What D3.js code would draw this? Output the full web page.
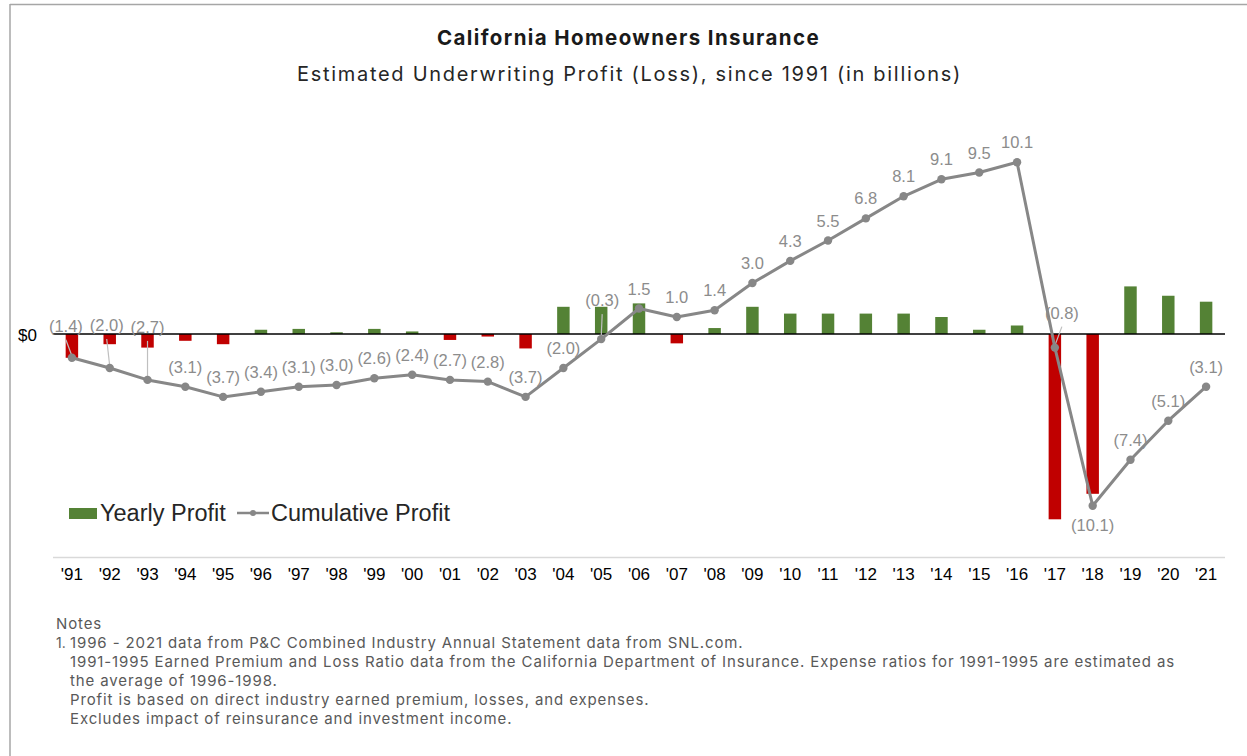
<!DOCTYPE html>
<html>
<head>
<meta charset="utf-8">
<script src="https://cdn.jsdelivr.net/npm/d3@7"></script>
<style>
  html, body { margin: 0; padding: 0; background: #fff; }
  svg { display: block; }
</style>
</head>
<body>
<svg id="chart" width="1247" height="756"></svg>
<script>
// ---- data ----
const years = ["'91","'92","'93","'94","'95","'96","'97","'98","'99","'00","'01","'02","'03","'04","'05","'06","'07","'08","'09","'10","'11","'12","'13","'14","'15","'16","'17","'18","'19","'20","'21"];
const yearlyProfit = [-1.4,-0.6,-0.8,-0.4,-0.6,0.25,0.3,0.1,0.3,0.15,-0.35,-0.15,-0.85,1.6,1.6,1.8,-0.55,0.35,1.6,1.2,1.2,1.2,1.2,1.0,0.25,0.5,-10.9,-9.4,2.8,2.25,1.9];
const cumulativeProfit = [-1.4,-2.0,-2.7,-3.1,-3.7,-3.4,-3.1,-3.0,-2.6,-2.4,-2.7,-2.8,-3.7,-2.0,-0.3,1.5,1.0,1.4,3.0,4.3,5.5,6.8,8.1,9.1,9.5,10.1,-0.8,-10.1,-7.4,-5.1,-3.1];
const seriesNames = ["Yearly Profit", "Cumulative Profit"];
const titleText = "California Homeowners Insurance";
const subtitleText = "Estimated Underwriting Profit (Loss), since 1991 (in billions)";
const notesLines = [
  "1996 - 2021 data from P&C Combined Industry Annual Statement data from SNL.com.",
  "1991-1995 Earned Premium and Loss Ratio data from the California Department of Insurance. Expense ratios for 1991-1995 are estimated as",
  "the average of 1996-1998.",
  "Profit is based on direct industry earned premium, losses, and expenses.",
  "Excludes impact of reinsurance and investment income."
];

// label placement overrides (layout only): [dx, dy from point, leader line?]
const labelPlacement = {
  "'91": [-6, -26, true],
  "'92": [-3, -37, true],
  "'93": [0, -47, true],
  "'05": [1, -33, true],
  "'17": [7, -29, true],
  "'18": [0, 25, false]
};

const fmt = v => v < 0 ? "(" + Math.abs(v).toFixed(1) + ")" : v.toFixed(1);

const svg = d3.select("#chart");
const W = 1247, H = 756;

// fit text width via letter-spacing
function fitWidth(sel, target) {
  const n = sel.text().length;
  const len = sel.node().getComputedTextLength();
  const ls = (target - len) / n;
  sel.style("letter-spacing", ls + "px");
  return ls;
}

// frame
svg.append("line").attr("x1", 10).attr("x2", W).attr("y1", 4.5).attr("y2", 4.5)
  .attr("stroke", "#a6a6a6").attr("stroke-width", 1.5);
svg.append("line").attr("x1", 10).attr("x2", 10).attr("y1", 4).attr("y2", H)
  .attr("stroke", "#a6a6a6").attr("stroke-width", 1.5);

// titles
const t1 = svg.append("text").attr("x", 437).attr("y", 45)
  .style("font-family", "Inter, 'Open Sans', sans-serif").style("font-weight", "700")
  .style("font-size", "20.5px").attr("fill", "#1a1a1a").text(titleText);
fitWidth(t1, 383);
const t2 = svg.append("text").attr("x", 297).attr("y", 81)
  .style("font-family", "Inter, 'Open Sans', sans-serif").style("font-weight", "400")
  .style("font-size", "20px").attr("fill", "#262626").text(subtitleText);
fitWidth(t2, 665);

// scales
const x = d3.scaleBand().domain(years).range([53, 1225]).paddingInner(0.67).paddingOuter(0.335);
const y = d3.scaleLinear().domain([-12, 11]).range([334 + 12 * 17, 334 - 11 * 17]);
const cx = d => x(d) + x.bandwidth() / 2;

// bars
svg.append("g").selectAll("rect").data(years).join("rect")
  .attr("x", d => x(d))
  .attr("width", x.bandwidth())
  .attr("y", (d, i) => y(Math.max(0, yearlyProfit[i])))
  .attr("height", (d, i) => Math.abs(y(yearlyProfit[i]) - y(0)))
  .attr("fill", (d, i) => yearlyProfit[i] >= 0 ? "#548235" : "#c00000");

// zero line
svg.append("line").attr("x1", 53).attr("x2", 1225).attr("y1", y(0)).attr("y2", y(0))
  .attr("stroke", "#000").attr("stroke-width", 1.3);

// $0 label
svg.append("text").attr("x", 37).attr("y", y(0) + 7).attr("text-anchor", "end")
  .style("font-family", "Arial, 'Liberation Sans', sans-serif").style("font-size", "17px")
  .attr("fill", "#000").text("$0");

// leader lines
const leaderG = svg.append("g");
years.forEach((d, i) => {
  const p = labelPlacement[d];
  if (p && p[2]) {
    leaderG.append("line")
      .attr("x1", cx(d) + p[0]).attr("y1", y(cumulativeProfit[i]) + p[1] + 8)
      .attr("x2", cx(d)).attr("y2", y(cumulativeProfit[i]) - 2)
      .attr("stroke", "#bfbfbf").attr("stroke-width", 1.2);
  }
});

// cumulative line
const line = d3.line().x((d, i) => cx(years[i])).y(d => y(d));
svg.append("path").datum(cumulativeProfit).attr("d", line)
  .attr("fill", "none").attr("stroke", "#878787").attr("stroke-width", 3).attr("stroke-linejoin", "round");
svg.append("g").selectAll("circle").data(cumulativeProfit).join("circle")
  .attr("cx", (d, i) => cx(years[i])).attr("cy", d => y(d)).attr("r", 4.2)
  .attr("fill", "#878787");

// data labels
svg.append("g").selectAll("text").data(cumulativeProfit).join("text")
  .attr("x", (d, i) => cx(years[i]) + (labelPlacement[years[i]] ? labelPlacement[years[i]][0] : 0))
  .attr("y", (d, i) => y(d) + (labelPlacement[years[i]] ? labelPlacement[years[i]][1] : -14))
  .attr("text-anchor", "middle")
  .style("font-family", "Arial, 'Liberation Sans', sans-serif").style("font-size", "16.5px")
  .attr("fill", "#8c8c8c").text(d => fmt(d));

// legend
const lg = svg.append("g");
lg.append("rect").attr("x", 69).attr("y", 508).attr("width", 28).attr("height", 11).attr("fill", "#548235");
lg.append("text").attr("x", 100).attr("y", 521)
  .style("font-family", "Arial, 'Liberation Sans', sans-serif").style("font-size", "23.5px")
  .attr("fill", "#262626").text(seriesNames[0]);
lg.append("line").attr("x1", 237).attr("x2", 269).attr("y1", 513).attr("y2", 513)
  .attr("stroke", "#878787").attr("stroke-width", 2.5);
lg.append("circle").attr("cx", 253).attr("cy", 513).attr("r", 3).attr("fill", "#878787");
lg.append("text").attr("x", 271).attr("y", 521)
  .style("font-family", "Arial, 'Liberation Sans', sans-serif").style("font-size", "23.5px")
  .attr("fill", "#262626").text(seriesNames[1]);

// category axis
svg.append("line").attr("x1", 53).attr("x2", 1225).attr("y1", 557.5).attr("y2", 557.5)
  .attr("stroke", "#d9d9d9").attr("stroke-width", 1.5);
const xAxis = d3.axisBottom(x).tickSize(0).tickPadding(0);
const ax = svg.append("g").attr("transform", "translate(0,566)").call(xAxis);
ax.select(".domain").remove();
ax.selectAll("text")
  .style("font-family", "Arial, 'Liberation Sans', sans-serif").style("font-size", "17px")
  .attr("fill", "#000").attr("dy", "0.8em");

// notes
const ng = svg.append("g").style("font-family", "Inter, 'Open Sans', sans-serif")
  .style("font-size", "15px").attr("fill", "#595959");
const noteTexts = [];
noteTexts.push(ng.append("text").attr("x", 56).attr("y", 629).text("Notes"));
ng.append("text").attr("x", 56).attr("y", 648).style("font-size", "14px").text("1.");
notesLines.forEach((t, i) => {
  noteTexts.push(ng.append("text").attr("x", 70).attr("y", 648 + i * 19).text(t));
});
const ls = fitWidth(noteTexts[2], 1105);
noteTexts.forEach(s => s.style("letter-spacing", ls + "px"));
</script>
</body>
</html>
